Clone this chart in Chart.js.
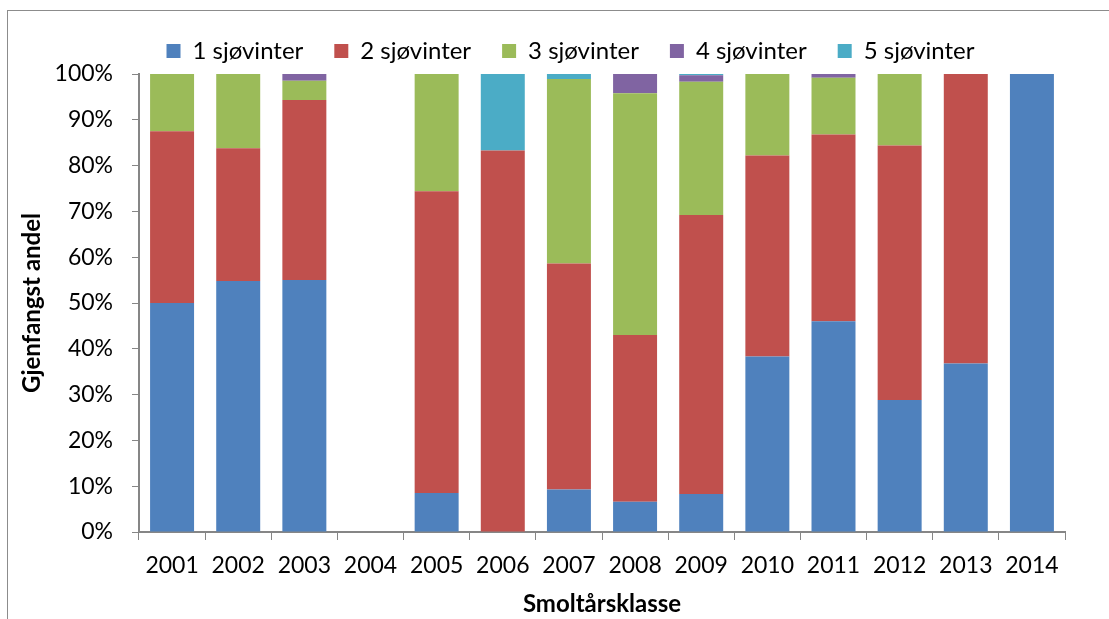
<!DOCTYPE html>
<html>
<head>
<meta charset="utf-8">
<script src="https://cdn.jsdelivr.net/npm/chart.js@4/dist/chart.umd.min.js"></script>
<style>
  html, body { margin: 0; padding: 0; background: #fff; }
  #wrap { width: 1109px; height: 619px; position: relative; }
</style>
</head>
<body>
<div id="wrap"><canvas id="myChart" width="1109" height="619"></canvas></div>
<script>
// Smoltårsklasser og andel (%) per sjøvinter-gruppe
var years = ['2001', '2002', '2003', '2004', '2005', '2006', '2007',
  '2008', '2009', '2010', '2011', '2012', '2013', '2014'];
var sw1 = [50.0, 54.8, 55.0, 0, 8.5, 0, 9.3, 6.6, 8.3, 38.3, 46.0, 28.8, 36.8, 100];
var sw2 = [37.5, 29.0, 39.3, 0, 65.9, 83.3, 49.3, 36.4, 60.9, 43.9, 40.8, 55.6, 63.2, 0];
var sw3 = [12.5, 16.2, 4.2, 0, 25.6, 0, 40.3, 52.8, 29.1, 17.8, 12.4, 15.6, 0, 0];
var sw4 = [0, 0, 1.5, 0, 0, 0, 0, 4.2, 1.4, 0, 0.8, 0, 0, 0];
var sw5 = [0, 0, 0, 0, 0, 16.7, 1.1, 0, 0.3, 0, 0, 0, 0, 0];
var yTicks = [0, 10, 20, 30, 40, 50, 60, 70, 80, 90, 100];

var axisColor = '#868686';
var font = 'Lato';

// frame round the whole chart
var framePlugin = {
  id: 'frame',
  beforeDraw: function (chart) {
    var c = chart.ctx;
    c.save();
    c.strokeStyle = '#8c8c8c';
    c.lineWidth = 1;
    c.strokeRect(7.5, 10.5, 1300, 700);
    c.restore();
  }
};

// fixed legend height so plot area starts where it does in the original,
// and legend nudged right to sit over the plot like in Excel
var legendFix = {
  id: 'legendFix',
  afterInit: function (chart) {
    var lg = chart.legend;
    var fit = lg.fit.bind(lg);
    lg.fit = function () {
      fit();
      this.height = 66;
    };
  },
  afterLayout: function (chart) {
    var lg = chart.legend;
    lg.left += 38;
    lg.right += 38;
  }
};

var ctx = document.getElementById('myChart').getContext('2d');
var chart = new Chart(ctx, {
  type: 'bar',
  data: {
    labels: years,
    datasets: [
      { label: '1 sjøvinter', data: sw1, backgroundColor: '#4F81BD' },
      { label: '2 sjøvinter', data: sw2, backgroundColor: '#C0504D' },
      { label: '3 sjøvinter', data: sw3, backgroundColor: '#9BBB59' },
      { label: '4 sjøvinter', data: sw4, backgroundColor: '#8064A2' },
      { label: '5 sjøvinter', data: sw5, backgroundColor: '#4BACC6' }
    ]
  },
  options: {
    responsive: false,
    animation: false,
    layout: { padding: { left: 0, right: 44, top: 8, bottom: 0 } },
    datasets: {
      bar: { categoryPercentage: 1, barPercentage: 0.665, borderWidth: 0 }
    },
    plugins: {
      legend: {
        position: 'top',
        labels: {
          boxWidth: 14,
          boxHeight: 14,
          padding: 31,
          color: '#000',
          font: { family: font, size: 24 }
        }
      },
      tooltip: { enabled: false }
    },
    scales: {
      x: {
        stacked: true,
        grid: {
          offset: true,
          drawOnChartArea: false,
          drawTicks: true,
          tickLength: 8,
          color: axisColor
        },
        border: { color: axisColor, width: 2 },
        ticks: {
          color: '#000',
          padding: 12,
          maxRotation: 0,
          font: { family: font, size: 23 }
        },
        title: {
          display: true,
          text: 'Smoltårsklasse',
          color: '#000',
          padding: { top: 0, bottom: 0 },
          font: { family: font, size: 24, weight: 'bold' }
        },
        afterFit: function (scale) { scale.height = 87; }
      },
      y: {
        stacked: true,
        min: 0,
        max: 100,
        afterBuildTicks: function (scale) {
          scale.ticks = yTicks.map(function (v) { return { value: v }; });
        },
        grid: {
          drawOnChartArea: false,
          drawTicks: true,
          tickLength: 7,
          color: axisColor
        },
        border: { color: axisColor, width: 2 },
        ticks: {
          color: '#000',
          padding: 19,
          font: { family: font, size: 23 },
          callback: function (v) { return v + '%'; }
        },
        title: {
          display: true,
          text: 'Gjenfangst andel',
          color: '#000',
          padding: { top: 18, bottom: 0 },
          font: { family: font, size: 24, weight: 'bold' }
        },
        afterFit: function (scale) { scale.width = 139; }
      }
    }
  },
  plugins: [framePlugin, legendFix]
});
</script>
</body>
</html>
